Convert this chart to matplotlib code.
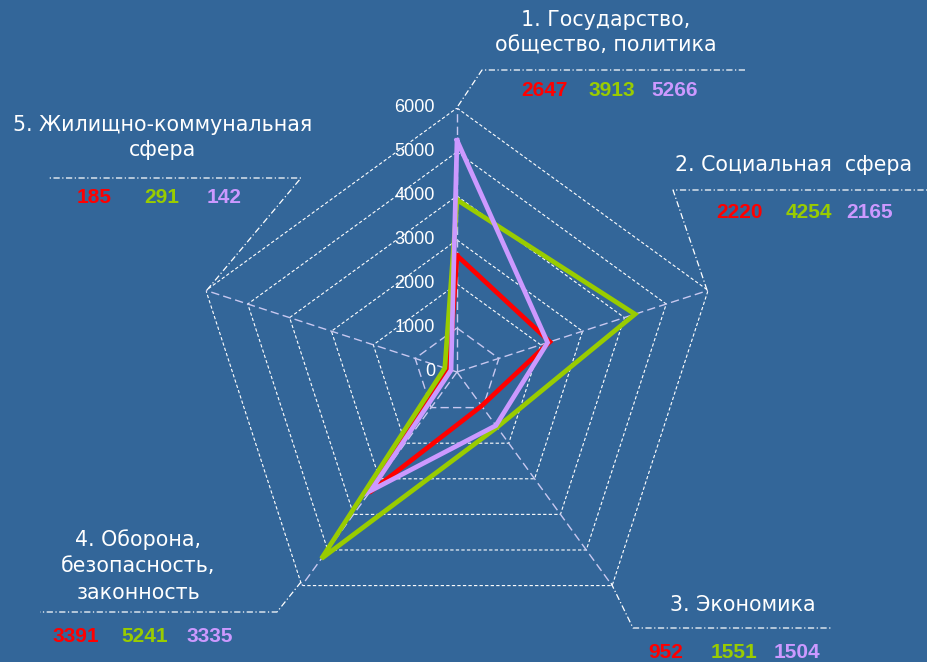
import numpy as np
import matplotlib
matplotlib.use("Agg")
import matplotlib.pyplot as plt
from matplotlib.lines import Line2D

# data
categories = ["1. Государство,\nобщество, политика",
              "2. Социальная  сфера",
              "3. Экономика",
              "4. Оборона,\nбезопасность,\nзаконность",
              "5. Жилищно-коммунальная\nсфера"]
series_red = [2647, 2220, 952, 3391, 185]
series_green = [3913, 4254, 1551, 5241, 291]
series_purple = [5266, 2165, 1504, 3335, 142]
r_ticks = [0, 1000, 2000, 3000, 4000, 5000, 6000]

BG = "#336699"
RED = "#ff0000"
GREEN = "#99cc00"
PURPLE = "#cc99ff"
LAV = "#c8c8f0"

W, H = 928, 662
fig = plt.figure(figsize=(W / 100, H / 100), dpi=100, facecolor=BG)

# polar axes centred at (457, 372) px, radius 264 px
cx, cy, R = 457, 372, 264
ax = fig.add_axes([(cx - R) / W, (H - cy - R) / H, 2 * R / W, 2 * R / H],
                  projection="polar")
ax.set_facecolor("none")
ax.set_theta_offset(np.pi / 2)
ax.set_theta_direction(-1)
ax.set_ylim(0, 6000)
ax.grid(False)
ax.set_xticks([])
ax.set_yticks([])
ax.spines["polar"].set_visible(False)

n = len(categories)
theta = np.arange(n) * 2 * np.pi / n
theta_c = np.append(theta, theta[0])

# pentagon grid
for r in r_ticks[1:]:
    if r == 1000:
        ax.plot(theta_c, [r] * (n + 1), color=LAV, lw=1.0, ls=(0, (6, 3)), zorder=1)
    else:
        ax.plot(theta_c, [r] * (n + 1), color="white", lw=0.8, ls=(0, (3, 2)), zorder=1)
for t in theta:
    ax.plot([t, t], [0, 6000], color=LAV, lw=1.0, ls=(0, (6, 3)), zorder=1)

# radial labels
for r in r_ticks:
    ax.annotate(str(r), xy=(0, r), xytext=(-22, 0), textcoords="offset pixels",
                ha="right", va="center", color="white", fontsize=13,
                family="Liberation Sans", annotation_clip=False)

# series
for vals, col in [(series_red, RED), (series_green, GREEN), (series_purple, PURPLE)]:
    v = np.append(vals, vals[0])
    ax.plot(theta_c, v, color=col, lw=3.4, zorder=3, solid_joinstyle="miter")


def fx(x):
    return x / W


def fy(y):
    return (H - y) / H


def leader(pts):
    xs = [fx(p[0]) for p in pts]
    ys = [fy(p[1]) for p in pts]
    fig.add_artist(Line2D(xs, ys, color="white", lw=0.9, ls=(0, (5, 2, 1, 2))))


leader([(458, 106), (482, 70), (745, 70)])
leader([(707, 290), (673, 190), (928, 190)])
leader([(611, 583), (633, 628), (832, 628)])
leader([(301, 582), (277, 612), (40, 612)])
leader([(207, 290), (301, 178), (48, 178)])

# category labels: (x centre, y of first line, line spacing)
label_pos = [(606, 20, 26), (794, 165, 26), (743, 605, 26), (138, 540, 26.5), (163, 125, 25)]
for text, (x, y, sp) in zip(categories, label_pos):
    for i, line in enumerate(text.split("\n")):
        fig.text(fx(x), fy(y + i * sp), line, ha="center", va="center",
                 color="white", fontsize=14.8, family="DejaVu Sans")

# value rows: x centres of the three numbers and y
value_pos = [([544, 612, 675], 90), ([740, 809, 870], 213), ([666, 734, 797], 652),
             ([76, 145, 210], 637), ([94, 162, 224], 198)]
for i, (xs, y) in enumerate(value_pos):
    for vals, col, x in zip([series_red, series_green, series_purple],
                            [RED, GREEN, PURPLE], xs):
        fig.text(fx(x), fy(y), str(vals[i]), ha="center", va="center", color=col,
                 fontsize=15, fontweight="bold", family="Liberation Sans")

fig.savefig("out.png", dpi=100, facecolor=BG)
